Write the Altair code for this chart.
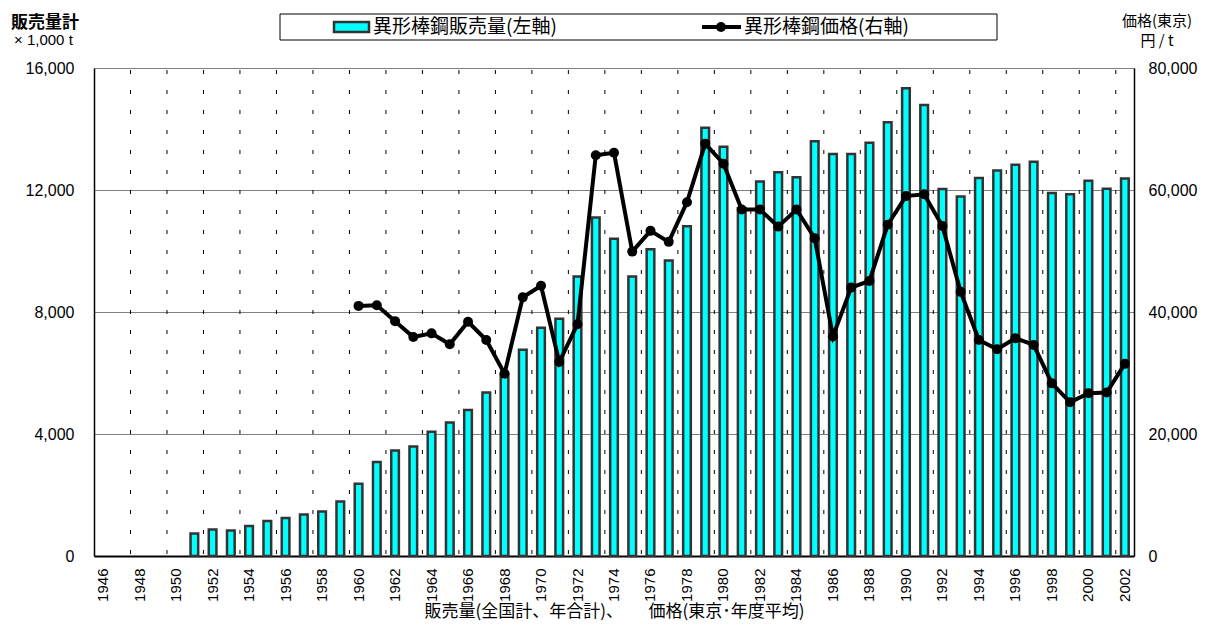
import altair as alt
import pandas as pd

# ---------------- data ----------------
years = list(range(1946, 2003))
label_years = list(range(1946, 2003, 2))
grid_years = list(range(1948, 2003, 2))

sales_years = list(range(1951, 2003))
sales = [740, 870, 840, 980, 1150, 1250, 1360, 1460, 1790, 2370,
         3080, 3460, 3590, 4070, 4380, 4790, 5360, 5950, 6760, 7480,
         7780, 9160, 11100, 10400, 9160, 10060, 9690, 10810, 14040, 13420,
         11400, 12280, 12580, 12420, 13600, 13180, 13180, 13550, 14220, 15340,
         14790, 12030, 11790, 12390, 12640, 12830, 12930, 11900, 11860, 12300,
         12040, 12380]

price_years = list(range(1960, 2003))
price = [41000, 41100, 38500, 35900, 36500, 34700, 38400, 35400, 29900, 42400,
         44300, 31800, 38000, 65700, 66100, 49900, 53300, 51500, 58000, 67600,
         64300, 56800, 56800, 54000, 56800, 52100, 36000, 44000, 45100, 54300,
         59000, 59300, 54100, 43300, 35400, 33900, 35700, 34600, 28300, 25200,
         26700, 26800, 31500]

left_ticks = [0, 4000, 8000, 12000, 16000]
right_ticks = [0, 20000, 40000, 60000, 80000]

legend_labels = ["異形棒鋼販売量(左軸)", "異形棒鋼価格(右軸)"]
left_title = ["販売量計", "× 1,000 t"]
right_title = ["価格(東京)", "円 / t"]
x_title = "販売量(全国計、年合計)、　　価格(東京･年度平均)"

sales_df = pd.DataFrame({"year": sales_years, "sales": sales})
price_df = pd.DataFrame({"year": price_years, "price": price})
grid_df = pd.DataFrame({"year": grid_years})

FONT = "Liberation Sans, Arial, Noto Sans CJK JP"
JP = "Noto Sans CJK JP, Liberation Sans"
CYAN = "#00FFFF"
EDGE = "#333333"

xscale = alt.Scale(domain=years, paddingInner=0, paddingOuter=0)
xaxis = alt.Axis(values=label_years, labelAngle=-90, ticks=False, labelPadding=12,
                 labelFontSize=15, labelFont=FONT, domainWidth=2, domainColor="black",
                 grid=False, title=x_title, titleFont=JP, titleFontSize=17,
                 titleFontWeight="normal", titlePadding=2, titleColor="black")

vgrid = alt.Chart(grid_df).mark_rule(color="black", strokeWidth=1, strokeDash=[4, 16],
                                     strokeDashOffset=-2).encode(
    x=alt.X("year:O", bandPosition=0, scale=xscale, axis=xaxis)
)

bars = alt.Chart(sales_df).mark_bar(fill=CYAN, stroke=EDGE, strokeWidth=2.5,
                                    width=alt.RelativeBandSize(0.42)).encode(
    x=alt.X("year:O", scale=xscale, axis=xaxis),
    y=alt.Y("sales:Q", scale=alt.Scale(domain=[0, 16000]),
            axis=alt.Axis(values=left_ticks, format=",.0f", title=None, ticks=False,
                          labelPadding=20, labelFontSize=16, labelFont=FONT,
                          grid=True, gridColor="#808080", gridWidth=1,
                          domainColor="black", domainWidth=1.5))
)

price_y = alt.Y("price:Q", scale=alt.Scale(domain=[0, 80000]),
                axis=alt.Axis(orient="right", values=right_ticks, format=",.0f", title=None,
                              ticks=False, labelPadding=14, labelFontSize=16,
                              labelFont=FONT, grid=False, domainColor="black",
                              domainWidth=1.5))

line = alt.Chart(price_df).mark_line(color="black", strokeWidth=4).encode(
    x=alt.X("year:O", scale=xscale, axis=xaxis), y=price_y)
pts = alt.Chart(price_df).mark_point(filled=True, color="black", size=100, opacity=1).encode(
    x=alt.X("year:O", scale=xscale, axis=xaxis), y=price_y)
price_layer = alt.layer(line, pts)

one = pd.DataFrame({"a": [0]})


def txt(s, x, y, size, align="left", weight="normal", font=JP):
    return alt.Chart(pd.DataFrame({"t": [s]})).mark_text(
        align=align, baseline="middle", fontSize=size, fontWeight=weight,
        font=font, color="black").encode(text="t:N", x=alt.value(x), y=alt.value(y))


legend_box = alt.Chart(one).mark_rect(fill="white", stroke="black", strokeWidth=1).encode(
    x=alt.value(186), x2=alt.value(903), y=alt.value(-54), y2=alt.value(-28))
legend_swatch = alt.Chart(one).mark_rect(fill=CYAN, stroke=EDGE, strokeWidth=2.5).encode(
    x=alt.value(240), x2=alt.value(275), y=alt.value(-46), y2=alt.value(-36))
legend_line = alt.Chart(one).mark_rule(color="black", strokeWidth=4).encode(
    x=alt.value(608), x2=alt.value(647), y=alt.value(-41))
legend_pt = alt.Chart(one).mark_point(filled=True, color="black", size=100, opacity=1).encode(
    x=alt.value(627), y=alt.value(-41))

decor = [
    legend_box, legend_swatch, legend_line, legend_pt,
    txt(legend_labels[0], 279, -41, 19),
    txt(legend_labels[1], 650, -41, 19),
    txt(left_title[0], -83, -45, 17, weight="bold"),
    txt(left_title[1], -80, -28, 15, font=FONT),
    txt(right_title[0], 1063, -47, 15, align="center"),
    txt(right_title[1], 1063, -27, 15, align="center"),
]

chart = alt.layer(vgrid, bars, price_layer, *decor).resolve_scale(
    y="independent"
).properties(
    width=1040, height=488,
    autosize=alt.AutoSizeParams(type="none"),
    padding={"left": 86, "top": 60, "right": 68, "bottom": 70},
    background="white",
).configure_view(stroke=None).configure_axis(labelColor="black")

chart.save("out.html", embed_options={"renderer": "svg", "actions": False})
